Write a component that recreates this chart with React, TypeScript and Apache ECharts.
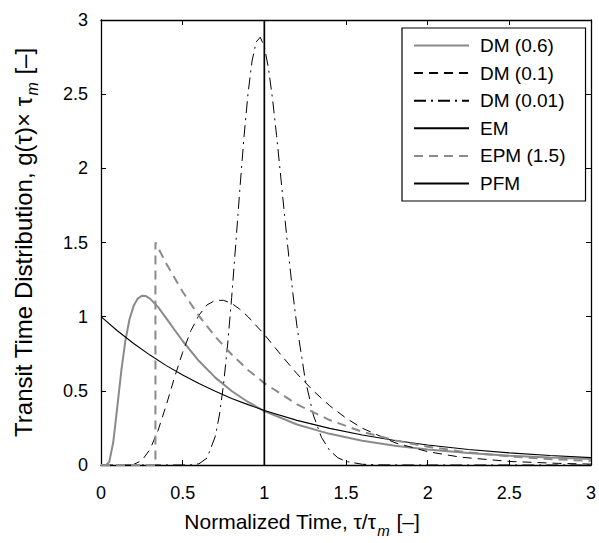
import React, { useEffect, useRef } from "react";
import * as echarts from "echarts";

// [normalized time, g(τ)·τm]
const dm06: [number, number][] = [
  [0, 0], [0.03, 0.0002], [0.05, 0.018], [0.075, 0.153], [0.1, 0.394], [0.125, 0.642],
  [0.15, 0.843], [0.175, 0.984], [0.2, 1.073], [0.225, 1.122], [0.25, 1.141], [0.275, 1.139],
  [0.3, 1.122], [0.35, 1.064], [0.4, 0.989], [0.45, 0.912], [0.5, 0.836], [0.6, 0.701],
  [0.7, 0.589], [0.8, 0.499], [0.9, 0.425], [1.0, 0.364], [1.2, 0.273], [1.4, 0.21],
  [1.6, 0.164], [1.8, 0.13], [2.0, 0.105], [2.25, 0.081], [2.5, 0.063], [2.75, 0.05], [3.0, 0.04],
];
const dm01: [number, number][] = [
  [0, 0], [0.1, 0], [0.15, 0.0001], [0.2, 0.004], [0.25, 0.03], [0.3, 0.105], [0.35, 0.235],
  [0.4, 0.405], [0.45, 0.59], [0.5, 0.76], [0.55, 0.905], [0.6, 1.01], [0.65, 1.08],
  [0.7, 1.11], [0.75, 1.11], [0.8, 1.09], [0.85, 1.05], [0.9, 1.0], [1.0, 0.88],
  [1.1, 0.745], [1.2, 0.615], [1.3, 0.5], [1.4, 0.4], [1.5, 0.316], [1.6, 0.248],
  [1.8, 0.15], [2.0, 0.09], [2.2, 0.053], [2.5, 0.024], [2.8, 0.011], [3.0, 0.006],
];
const dm001: [number, number][] = [
  [0, 0], [0.5, 0], [0.55, 0.0007], [0.6, 0.008], [0.65, 0.048], [0.7, 0.194], [0.725, 0.337],
  [0.75, 0.541], [0.775, 0.808], [0.8, 1.129], [0.825, 1.488], [0.85, 1.857], [0.875, 2.205],
  [0.9, 2.503], [0.925, 2.724], [0.95, 2.852], [0.975, 2.884], [1.0, 2.821], [1.025, 2.677],
  [1.05, 2.47], [1.075, 2.221], [1.1, 1.948], [1.125, 1.671], [1.15, 1.403], [1.175, 1.154],
  [1.2, 0.933], [1.25, 0.578], [1.3, 0.337], [1.35, 0.186], [1.4, 0.098], [1.45, 0.049],
  [1.5, 0.024], [1.6, 0.005], [1.7, 0.001], [1.8, 0.0002], [2.0, 0], [3.0, 0],
];
const em: [number, number][] = [
  [0, 1], [0.1, 0.905], [0.2, 0.819], [0.3, 0.741], [0.4, 0.67], [0.5, 0.607], [0.6, 0.549],
  [0.7, 0.497], [0.8, 0.449], [0.9, 0.407], [1.0, 0.368], [1.2, 0.301], [1.4, 0.247],
  [1.6, 0.202], [1.8, 0.165], [2.0, 0.135], [2.25, 0.105], [2.5, 0.082], [2.75, 0.064], [3.0, 0.05],
];
const epm: [number, number][] = [
  [0, 0], [0.3333, 0], [0.3333, 1.5], [0.4, 1.357], [0.5, 1.168], [0.6, 1.005], [0.7, 0.865],
  [0.8, 0.745], [0.9, 0.641], [1.0, 0.552], [1.2, 0.409], [1.4, 0.303], [1.6, 0.224],
  [1.8, 0.166], [2.0, 0.123], [2.25, 0.085], [2.5, 0.058], [2.75, 0.04], [3.0, 0.0275],
];
const pfm: [number, number][] = [[1, 0], [1, 3]];

const seriesNames = ["DM (0.6)", "DM (0.1)", "DM (0.01)", "EM", "EPM (1.5)", "PFM"];
const xTicks = [0, 3, 0.5];
const yTicks = [0, 3, 0.5];

const FONT = "'Liberation Sans', Arial, Helvetica, sans-serif";

export default function App() {
  const ref = useRef<HTMLDivElement>(null);
  useEffect(() => {
    document.body.style.margin = "0";
    if (!ref.current) return;
    const chart = echarts.init(ref.current, null, { renderer: "svg" });
    const gray = "#8a8a8a";
    const axisCommon = {
      min: xTicks[0],
      max: xTicks[1],
      interval: xTicks[2],
      splitLine: { show: false },
      axisLine: { show: true, onZero: false, lineStyle: { color: "#000", width: 1.3 } },
      axisTick: { show: true, inside: true, length: 5, lineStyle: { color: "#000", width: 1 } },
    };
    const mkLine = (name: string, data: [number, number][], color: string, width: number, type: any) => ({
      type: "line",
      name,
      data,
      symbol: "none",
      showSymbol: false,
      smooth: false,
      clip: true,
      lineStyle: { color, width, type },
      itemStyle: { color },
    });
    const richA = { fontSize: 21, fontFamily: FONT, color: "#000", verticalAlign: "top", lineHeight: 22 };
    const richM = {
      fontSize: 15,
      fontStyle: "italic",
      fontFamily: FONT,
      color: "#000",
      verticalAlign: "top",
      padding: [12, 1, 0, 1],
    };
    const richAy = { ...richA, fontSize: 24, lineHeight: 25 };
    const richMy = { ...richM, fontSize: 16, padding: [13, 1, 0, 1] };
    chart.setOption({
      animation: false,
      backgroundColor: "#fff",
      grid: { left: 101, right: 6, top: 20, bottom: 73, containLabel: false },
      legend: {
        orient: "vertical",
        left: 402,
        top: 28,
        data: seriesNames,
        itemWidth: 55,
        itemHeight: 14,
        itemGap: 8.6,
        padding: [8, 20, 8, 11],
        backgroundColor: "#fff",
        borderColor: "#000",
        borderWidth: 1.2,
        borderRadius: 0,
        itemStyle: { opacity: 0 },
        textStyle: { fontSize: 19, fontFamily: FONT, color: "#000", padding: [0, 0, 0, 6] },
      },
      xAxis: [
        {
          type: "value",
          position: "bottom",
          ...axisCommon,
          axisLabel: { fontSize: 18, fontFamily: FONT, color: "#000", margin: 19 },
          name: "{a|Normalized Time, τ/τ}{m|m}{a| [–]}",
          nameLocation: "middle",
          nameGap: 46,
          nameTextStyle: { rich: { a: richA, m: richM }, padding: [0, 88, 0, 0] },
        },
        {
          type: "value",
          position: "top",
          ...axisCommon,
          axisLabel: { show: false },
        },
      ],
      yAxis: [
        {
          type: "value",
          position: "left",
          ...axisCommon,
          min: yTicks[0],
          max: yTicks[1],
          interval: yTicks[2],
          axisLabel: { fontSize: 18, fontFamily: FONT, color: "#000", margin: 13 },
          name: "{a|Transit Time Distribution, g(τ)× τ}{m|m}{a| [–]}",
          nameLocation: "middle",
          nameGap: 61,
          nameTextStyle: { rich: { a: richAy, m: richMy } },
        },
        {
          type: "value",
          position: "right",
          ...axisCommon,
          min: yTicks[0],
          max: yTicks[1],
          interval: yTicks[2],
          axisLabel: { show: false },
        },
      ],
      series: [
        mkLine(seriesNames[0], dm06, gray, 2, "solid"),
        mkLine(seriesNames[1], dm01, "#000", 1, [9, 6]),
        mkLine(seriesNames[2], dm001, "#000", 1, [12, 5, 2, 5]),
        mkLine(seriesNames[3], em, "#000", 1.1, "solid"),
        mkLine(seriesNames[4], epm, gray, 2, [9, 6]),
        mkLine(seriesNames[5], pfm, "#000", 1.7, "solid"),
      ],
    });
    return () => chart.dispose();
  }, []);
  return <div ref={ref} style={{ width: 599, height: 543 }} />;
}
